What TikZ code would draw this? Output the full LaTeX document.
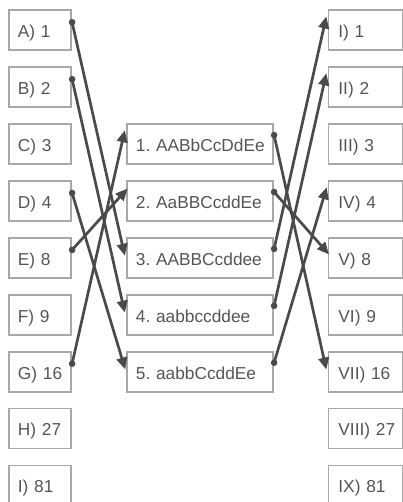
\documentclass[tikz,border=0pt]{standalone}
\usepackage{fontspec}
\setmainfont{Liberation Sans}
\usetikzlibrary{arrows.meta,calc}
\definecolor{boxc}{HTML}{A8A8A8}
\definecolor{linec}{HTML}{4A4A4A}
\definecolor{txtc}{HTML}{555555}
\begin{document}
\frenchspacing
\begin{tikzpicture}[x=1pt,y=-1pt,
  box/.style={draw=boxc,line width=1.8pt,anchor=north west,minimum height=40pt,
    inner ysep=0pt,text height=14.8pt,text depth=0pt,align=left,
    font=\fontsize{17.3}{20}\selectfont\frenchspacing,text=txtc},
  lbox/.style={box,text width=44.3pt,inner xsep=9pt},
  mbox/.style={box,text width=128.3pt,inner xsep=9pt},
  rbox/.style={box,text width=54pt,inner xsep=10pt},
  conn/.style={draw=linec,line width=2.7pt,-{Triangle[length=12pt,width=10.5pt]},shorten >=-6pt},
  dotc/.style={fill=linec}]
\useasboundingbox (0,0) rectangle (403,502);
% left column
\node[lbox] (A) at (8,9.3) {\mbox{A) 1}};
\node[lbox] (B) at (8,66.2) {\mbox{B) 2}};
\node[lbox] (C) at (8,123.1) {\mbox{C) 3}};
\node[lbox] (D) at (8,180.0) {\mbox{D) 4}};
\node[lbox] (E) at (8,236.9) {\mbox{E) 8}};
\node[lbox] (F) at (8,293.8) {\mbox{F) 9}};
\node[lbox] (G) at (8,350.7) {\mbox{G) 16}};
\node[lbox] (H) at (8,407.6) {\mbox{H) 27}};
\node[lbox] (Il) at (8,464.5) {\mbox{I) 81}};
% middle column
\node[mbox] (m1) at (126,123.1) {\mbox{1. AABbCcDdEe}};
\node[mbox] (m2) at (126,180.0) {\mbox{2. AaBBCcddEe}};
\node[mbox] (m3) at (126,236.9) {\mbox{3. AABBCcddee}};
\node[mbox] (m4) at (126,293.8) {\mbox{4. aabbccddee}};
\node[mbox] (m5) at (126,350.7) {\mbox{5. aabbCcddEe}};
% right column
\node[rbox] (r1) at (327.5,9.3) {\mbox{I) 1}};
\node[rbox] (r2) at (327.5,66.2) {\mbox{II) 2}};
\node[rbox] (r3) at (327.5,123.1) {\mbox{III) 3}};
\node[rbox] (r4) at (327.5,180.0) {\mbox{IV) 4}};
\node[rbox] (r5) at (327.5,236.9) {\mbox{V) 8}};
\node[rbox] (r6) at (327.5,293.8) {\mbox{VI) 9}};
\node[rbox] (r7) at (327.5,350.7) {\mbox{VII) 16}};
\node[rbox] (r8) at (327.5,407.6) {\mbox{VIII) 27}};
\node[rbox] (r9) at (327.5,464.5) {\mbox{IX) 81}};
% connectors left -> middle
\draw[conn] ($(A.north east)+(0,13)$) -- ($(m3.north west)+(-2.5,13)$);
\draw[conn] ($(B.north east)+(0,13)$) -- ($(m4.north west)+(-2.5,13)$);
\draw[conn] ($(D.north east)+(0,13)$) -- ($(m5.north west)+(-2.5,13)$);
\draw[conn] ($(E.north east)+(0,13)$) -- ($(m2.north west)+(-2.5,13)$);
\draw[conn] ($(G.north east)+(0,13)$) -- ($(m1.north west)+(-2.5,13)$);
% connectors middle -> right
\draw[conn] ($(m1.north east)+(0,12)$) -- ($(r7.north west)+(-2.5,13)$);
\draw[conn] ($(m2.north east)+(0,12)$) -- ($(r5.north west)+(-2.5,13)$);
\draw[conn] ($(m3.north east)+(0,12)$) -- ($(r1.north west)+(-2.5,13)$);
\draw[conn] ($(m4.north east)+(0,12)$) -- ($(r2.north west)+(-2.5,13)$);
\draw[conn] ($(m5.north east)+(0,12)$) -- ($(r4.north west)+(-2.5,13)$);
% dots
\foreach \n in {A,B,D,E,G} \fill[dotc] ($(\n.north east)+(0,13)$) circle (3.3pt);
\foreach \n in {m1,m2,m3,m4,m5} \fill[dotc] ($(\n.north east)+(0,12)$) circle (3.3pt);
\end{tikzpicture}
\end{document}
